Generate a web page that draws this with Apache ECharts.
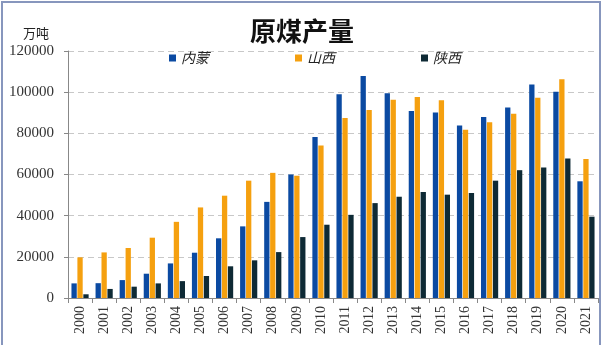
<!DOCTYPE html>
<html><head><meta charset="utf-8">
<script src="https://cdn.jsdelivr.net/npm/echarts@6/dist/echarts.min.js"></script>
<style>html,body{margin:0;padding:0;background:#fff}#c{width:604px;height:345px}</style>
</head><body><div id="c"></div>
<script>
const years = ['2000','2001','2002','2003','2004','2005','2006','2007','2008','2009','2010','2011','2012','2013','2014','2015','2016','2017','2018','2019','2020','2021'];
const neimeng = [7100,7200,8700,11800,16800,22000,29000,34800,46700,60000,78200,99000,107900,99500,90800,90100,83800,87900,92600,103700,100200,56700];
const shanxi = [19750,22150,24300,29300,37000,44000,49700,57000,60800,59400,74100,87400,91300,96300,97700,96100,81700,85400,89500,97300,106300,67500];
const shaanxi = [1800,4400,5500,7100,8200,10700,15400,18300,22300,29600,35600,40400,46100,49200,51500,50200,51000,57000,62100,63400,67800,39500];
const yTicks = [0,20000,40000,60000,80000,100000,120000];
const unit = '万吨';

const chart = echarts.init(document.getElementById('c'));
const serif = 'Liberation Serif';
chart.setOption({
  animation:false,
  graphic:[
    {type:'rect',shape:{x:2,y:2,width:598,height:350},style:{fill:'none',stroke:'#8796bd',lineWidth:2}, z:100},
    {type:'text',x:36,y:33,style:{text:unit,fontFamily:'Noto Sans CJK SC',fontSize:13,fill:'#222',align:'center',verticalAlign:'middle'}}
  ],
  title:{text:'原煤产量',left:'center',top:13,textStyle:{fontFamily:'Noto Sans CJK SC',fontSize:26,fontWeight:'bold',color:'#111'}},
  legend:{top:46,left:164,itemGap:86,itemWidth:7,itemHeight:7,icon:'rect',
    textStyle:{fontFamily:'Noto Sans CJK SC',fontSize:14,fontStyle:'italic',color:'#222'},
    data:['内蒙','山西','陕西']},
  grid:{left:68,right:6,top:51,bottom:47},
  xAxis:{type:'category',data:years,
    axisLine:{lineStyle:{color:'#888'}},
    axisTick:{show:true,length:5,lineStyle:{color:'#888'}},
    axisLabel:{rotate:90,fontFamily:serif,fontSize:14,color:'#333',margin:8}},
  yAxis:{type:'value',min:0,max:120000,interval:20000,
    axisLine:{show:true,lineStyle:{color:'#888'}},
    axisTick:{show:true,length:4,lineStyle:{color:'#888'}},
    axisLabel:{fontFamily:serif,fontSize:15,color:'#333',margin:14,
      formatter:v=>yTicks.includes(v)?String(v):''},
    splitLine:{lineStyle:{type:[6,4],color:'#c8c8c8'}}},
  series:[
    {name:'内蒙',type:'bar',data:neimeng,barWidth:'22%',barGap:'12%',itemStyle:{color:'#0b4aa2'}},
    {name:'山西',type:'bar',data:shanxi,barWidth:'22%',barGap:'12%',itemStyle:{color:'#f5a00f'}},
    {name:'陕西',type:'bar',data:shaanxi,barWidth:'22%',barGap:'12%',itemStyle:{color:'#0e2a35'}}
  ]
});
</script></body></html>
